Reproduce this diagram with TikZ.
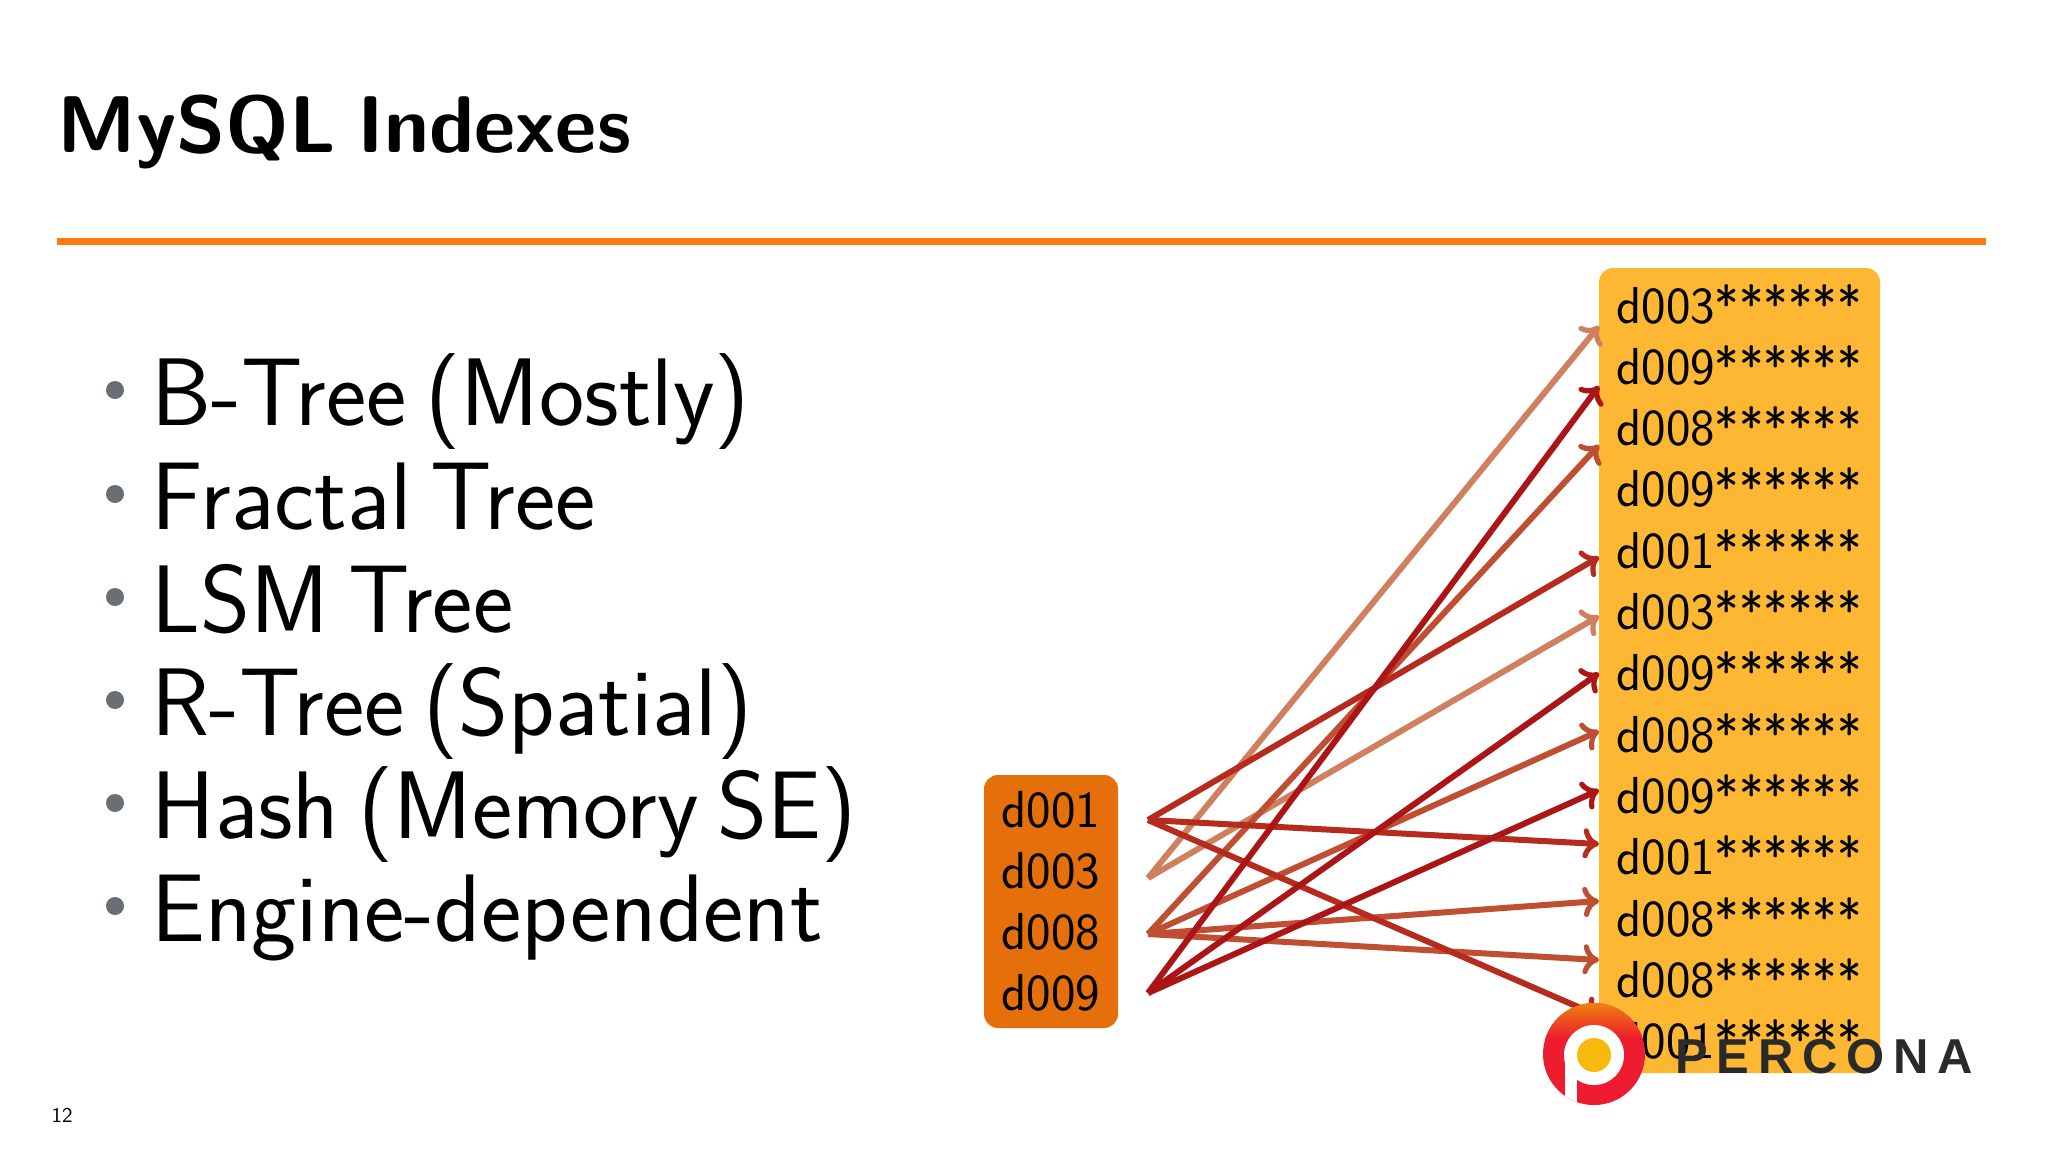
\documentclass[tikz,border=0pt]{standalone}
\usepackage{fontspec}
\usetikzlibrary{arrows.meta}
\newfontfamily\percfont[LetterSpace=18]{Liberation Sans}
\renewcommand{\familydefault}{\sfdefault}
\definecolor{rulecol}{HTML}{FF7A0F}
\definecolor{dotcol}{HTML}{6A6F75}
\definecolor{leftcol}{HTML}{E56F0A}
\definecolor{rightcol}{HTML}{FDB733}
\definecolor{cA}{HTML}{B72A1E}
\definecolor{cB}{HTML}{D0805F}
\definecolor{cC}{HTML}{C04E33}
\definecolor{cD}{HTML}{AC1515}
\definecolor{logored}{HTML}{ED1C2E}
\definecolor{logoorange}{HTML}{F0800F}
\definecolor{logoyellow}{HTML}{F8B90C}
\definecolor{perctext}{HTML}{2A2A2A}
\newcommand{\titlegap}{\spaceskip=11pt\relax}
\newcommand{\itemgap}{\spaceskip=9.5pt\relax}
\tikzset{
  x=0.5pt,y=-0.5pt,
  title/.style={anchor=base west,inner sep=0pt,font=\sffamily\bfseries\fontsize{40.2}{50}\selectfont,execute at begin node={\titlegap}},
  item/.style={anchor=base west,inner sep=0pt,font=\sffamily\fontsize{48}{54}\selectfont,execute at begin node={\itemgap}},
  dotmark/.style={circle,fill=dotcol,inner sep=0pt,minimum size=9pt},
  rowtext/.style={anchor=base west,inner sep=0pt,font=\sffamily\fontsize{26}{30}\selectfont},
  keytext/.style={anchor=base,inner sep=0pt,font=\sffamily\fontsize{26}{30}\selectfont},
  link/.style={line width=3pt,line cap=butt,-{Computer Modern Rightarrow[length=8pt,width=15pt,line width=2.6pt]}},
}
\begin{document}
\begin{tikzpicture}
\useasboundingbox (0,0) rectangle (2048,1152);
\fill[white] (0,0) rectangle (2048,1152);
% heading
\node[title] (head) at (57,152) {MySQL Indexes};
\fill[rulecol] (57,238) rectangle (1986,245);
\node[anchor=base,inner sep=0pt,font=\sffamily\fontsize{10.5}{12}\selectfont] (pg) at (62,1122) {12};
% bullets
\foreach \n/\y/\t in {1/425/{B-Tree (Mostly)},2/529/{Fractal Tree},3/632/{LSM Tree},4/735/{R-Tree (Spatial)},5/838/{Hash (Memory SE)},6/941/{Engine-dependent}}{
  \node[dotmark] (dot\n) at (115,\y-35) {};
  \node[item] (item\n) at (151,\y) {\t};
}
% boxes
\fill[leftcol,rounded corners=7pt] (984,775) rectangle (1118,1028);
\fill[rightcol,rounded corners=7pt] (1599,268) rectangle (1880,1073);
% keys
\foreach \n/\y/\t in {1/827/d001,2/888/d003,3/949/d008,4/1010/d009}{
  \node[keytext] (key\n) at (1051,\y) {\t};
}
% rows
\foreach \n/\t [evaluate=\n as \yy using 323+61.3*(\n-1)] in {1/d003,2/d009,3/d008,4/d009,5/d001,6/d003,7/d009,8/d008,9/d009,10/d001,11/d008,12/d008,13/d001}{
  \node[rowtext] (row\n) at (1616,\yy) {\t******};
}
% connector ends
\coordinate (s1) at (1148,820);
\coordinate (s2) at (1148,878);
\coordinate (s3) at (1148,934);
\coordinate (s4) at (1148,993);
\foreach \n/\y in {1/326,2/386,3/445,5/557,6/616,7/673,8/731,9/790,10/844,11/901,12/960,13/1016}{
  \coordinate (t\n) at (1599,\y);
}
\draw[link,cB] (s2) -- (t1);
\draw[link,cB] (s2) -- (t6);
\draw[link,cC] (s3) -- (t3);
\draw[link,cC] (s3) -- (t8);
\draw[link,cC] (s3) -- (t11);
\draw[link,cC] (s3) -- (t12);
\draw[link,cA] (s1) -- (t5);
\draw[link,cA] (s1) -- (t10);
\draw[link,cA] (s1) -- (t13);
\draw[link,cD] (s4) -- (t2);
\draw[link,cD] (s4) -- (t7);
\draw[link,cD] (s4) -- (t9);
% logo
\fill[logored] (1594,1054) circle[radius=51];
\begin{scope}
  \clip (1594,1054) circle[radius=51];
  \shade[top color=logoorange,bottom color=logored] (1540,1003) rectangle (1650,1038);
  \fill[white] (1594,1055) circle[radius=30];
  \fill[white] (1565,1055) rectangle (1577,1110);
\end{scope}
\fill[logoyellow] (1594,1055) circle[radius=17];
\node[anchor=base west,inner sep=0pt,text=perctext,font=\percfont\bfseries\fontsize{24.5}{30}\selectfont] (brand) at (1675,1073) {PERCONA};
\end{tikzpicture}
\end{document}
